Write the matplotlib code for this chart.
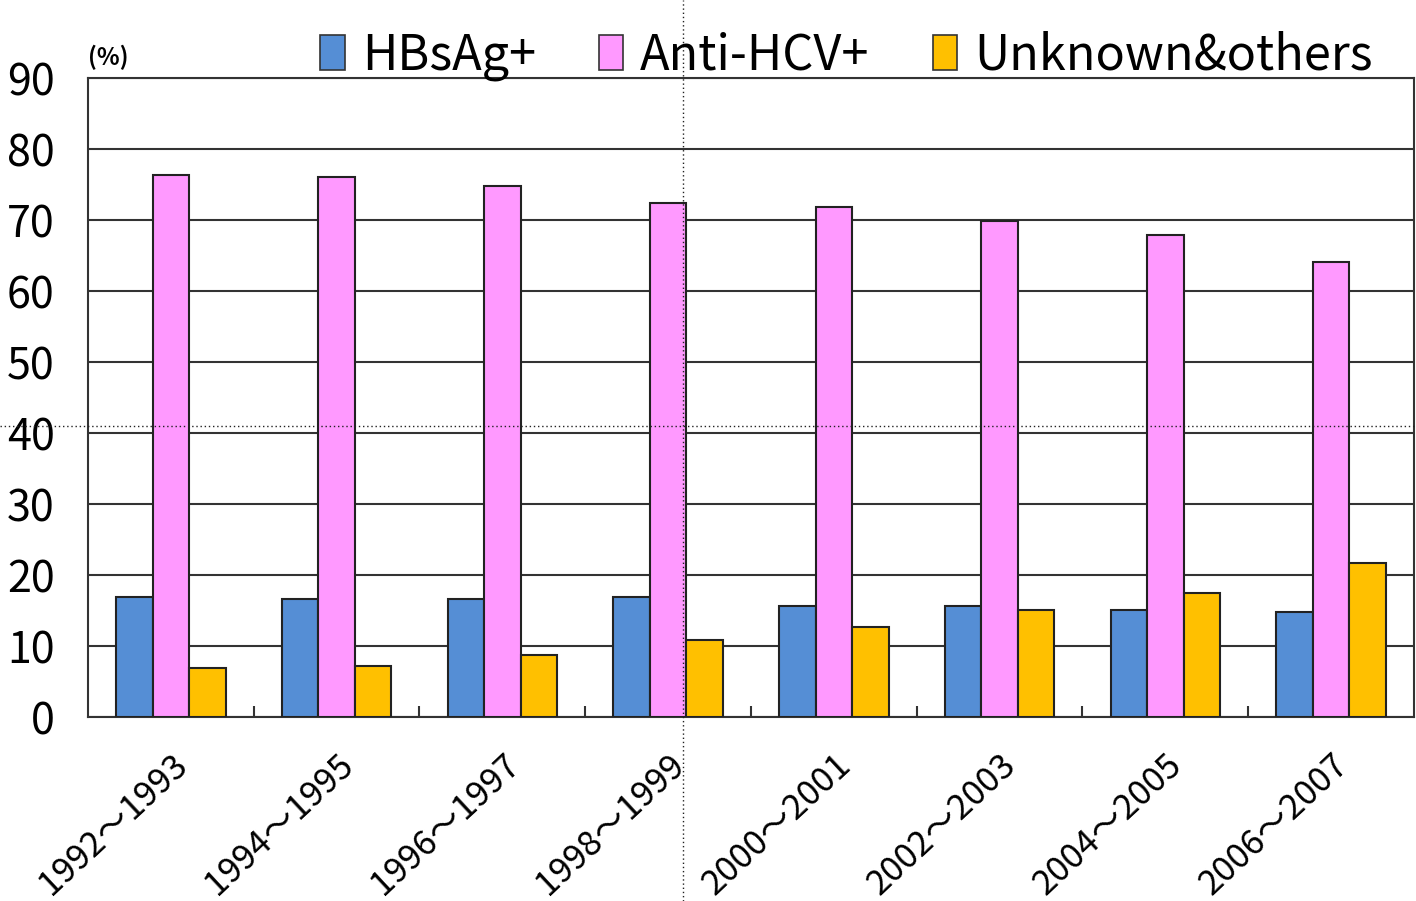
import numpy as np
import matplotlib.pyplot as plt
from matplotlib.patches import Patch
from matplotlib.lines import Line2D

periods = ['1992～1993', '1994～1995', '1996～1997', '1998～1999',
           '2000～2001', '2002～2003', '2004～2005', '2006～2007']
hbsag = [16.9, 16.6, 16.6, 16.9, 15.6, 15.6, 15.1, 14.8]
anti_hcv = [76.3, 76.1, 74.8, 72.4, 71.8, 69.9, 67.9, 64.1]
unknown = [6.9, 7.2, 8.7, 10.8, 12.7, 15.1, 17.5, 21.7]
series_names = ['HBsAg+', 'Anti-HCV+', 'Unknown&others']
colors = ['#558ED5', '#FF99FF', '#FFC000']

plt.rcParams['font.family'] = ['Noto Sans CJK JP', 'DejaVu Sans']

fig = plt.figure(figsize=(14.16, 9.01), dpi=100)
ax = fig.add_axes([0.0621, 0.2042, 0.9365, 0.7092])

x = np.arange(len(periods))
w = 0.22
for i, (vals, c) in enumerate(zip([hbsag, anti_hcv, unknown], colors)):
    ax.bar(x + (i - 1) * w, vals, w, color=c, edgecolor='#222222', linewidth=1.5, zorder=3)

ax.set_xlim(-0.5, len(periods) - 0.5)
ax.set_ylim(0, 90)
ax.set_yticks(range(0, 91, 10))
ax.yaxis.grid(True, color='#333333', linewidth=1.5, zorder=0)
ax.tick_params(axis='y', length=0, labelsize=31, pad=24)
for s in ax.spines.values():
    s.set_color('#333333')
    s.set_linewidth(1.5)

# category labels and boundary ticks
ax.set_xticks(x)
ax.set_xticklabels(periods, rotation=43, ha='right', rotation_mode='anchor', fontsize=25)
ax.tick_params(axis='x', length=0, pad=22)
ax.set_xticks(np.arange(0.5, len(periods) - 1, 1), minor=True)
ax.tick_params(axis='x', which='minor', direction='in', length=8, width=1.5, color='#333333')

fig.text(0.062, 0.928, '(%)', fontsize=17, fontweight='bold')

handles = [Patch(facecolor=c, edgecolor='#333333', linewidth=1.2) for c in colors]
fig.legend(handles, series_names, ncol=3, loc='upper right', bbox_to_anchor=(0.99, 0.998),
           frameon=False, fontsize=35, handlelength=0.5, handleheight=0.75,
           handletextpad=0.35, columnspacing=1.3, borderaxespad=0.2)

# dotted crosshair
fig.add_artist(Line2D([0.4823, 0.4823], [0, 1], transform=fig.transFigure,
                      color='#222222', linestyle=(0, (1, 2)), linewidth=1))
fig.add_artist(Line2D([0, 1], [0.5272, 0.5272], transform=fig.transFigure,
                      color='#222222', linestyle=(0, (1, 2)), linewidth=1))

fig.savefig('out.png', dpi=100)
